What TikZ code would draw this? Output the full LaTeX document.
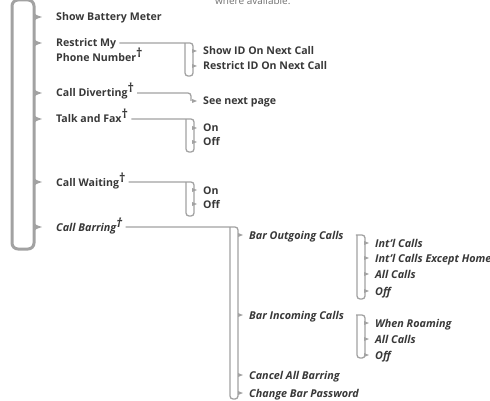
\documentclass[tikz,border=0pt]{standalone}
\usepackage{fontspec}
\setmainfont{Open Sans}
\usepackage{xcolor}
\definecolor{ink}{HTML}{383838}
\definecolor{rail}{HTML}{A2A2A2}
\definecolor{note}{HTML}{707070}
\usetikzlibrary{calc}
\tikzset{
  item/.style={anchor=base west,inner sep=0pt,text=ink,font=\bfseries\fontsize{10.6}{13}\selectfont},
  iitem/.style={item,font=\bfseries\itshape\fontsize{10.8}{13}\selectfont},
  mainrail/.style={draw=rail,line width=3pt,rounded corners=6pt},
  subrail/.style={draw=rail,line width=1.3pt,rounded corners=3pt},
}
\newcommand{\dg}{\raisebox{4pt}{\fontsize{12.5}{12}\selectfont †}}

\begin{document}
\begin{tikzpicture}[x=1pt,y=-1pt]
\useasboundingbox (0,0) rectangle (490,401);
\node[anchor=base west,inner sep=0pt,text=note,font=\fontsize{10}{12}\selectfont] (avail) at (215,5) {where available.};

% main list
\draw[mainrail] (12,0) rectangle (34,249);
\node[item] (show) at (56,21) {Show Battery Meter};
\node[item] (restrict) at (56,47) {Restrict My};
\node[item] (phone) at (56,62) {Phone Number\dg};
\node[item] (divert) at (56,97) {Call Diverting\dg};
\node[item] (fax) at (56,123) {Talk and Fax\dg};
\node[item] (waiting) at (56,186) {Call Waiting\dg};
\node[iitem] (barring) at (56,231) {Call Barring\dg};
\foreach \n in {show,restrict,divert,fax,waiting,barring}
  \fill[rail,shift={(\n.base west)}] (-23,-9) .. controls (-20,-6) .. (-14,-4) .. controls (-20,-2) .. (-23,1) -- cycle;

% second level
\node[item] (sid) at (203,55) {Show ID On Next Call};
\node[item] (rid) at (203,70) {Restrict ID On Next Call};
\node[item] (nextpage) at (203,105) {See next page};
\node[item] (faxon) at (203,132) {On};
\node[item] (faxoff) at (203,146) {Off};
\node[item] (waiton) at (203,194) {On};
\node[item] (waitoff) at (203,208) {Off};
\node[iitem] (outgoing) at (249,239) {Bar Outgoing Calls};
\node[iitem] (incoming) at (249,319) {Bar Incoming Calls};
\node[iitem] (cancel) at (249,379) {Cancel All Barring};
\node[iitem] (password) at (249,397) {Change Bar Password};

% third level
\node[iitem] (intl) at (375,247) {Int'l Calls};
\node[iitem] (intlhome) at (375,262) {Int'l Calls Except Home};
\node[iitem] (outall) at (375,278) {All Calls};
\node[iitem] (outoff) at (375,295) {Off};
\node[iitem] (roam) at (375,327) {When Roaming};
\node[iitem] (inall) at (375,343) {All Calls};
\node[iitem] (inoff) at (375,359) {Off};

% brackets
\draw[subrail] ($(restrict.base east)+(3,-4)$) -- (193,43) -- (193,76) -- (185,76) -- (185,43);
\draw[subrail] ($(divert.base east)+(3,-4)$) -- (191,93) -- (191,101);
\draw[subrail] ($(fax.base east)+(3,-4)$) -- (194,119) -- (194,152) -- (186,152) -- (186,119);
\draw[subrail] ($(waiting.base east)+(3,-4)$) -- (194,182) -- (194,216) -- (186,216) -- (186,182);
\draw[subrail] ($(barring.base east)+(3,-4)$) -- (238,227) -- (238,399) -- (230,399) -- (230,227);
\draw[subrail] ($(outgoing.base east)+(12,-4)$) -- (365,235) -- (365,299) -- (357,299) -- (357,235);
\draw[subrail] ($(incoming.base east)+(12,-4)$) -- (365,315) -- (365,358) -- (357,358) -- (357,315);
\foreach \n in {sid,rid,nextpage,faxon,faxoff,waiton,waitoff,outgoing,incoming,cancel,password,intl,intlhome,outall,outoff,roam,inall,inoff}
  \fill[rail,shift={(\n.base west)}] (-11,-6) -- (-6,-4) -- (-11,-2) -- cycle;
\end{tikzpicture}
\end{document}
